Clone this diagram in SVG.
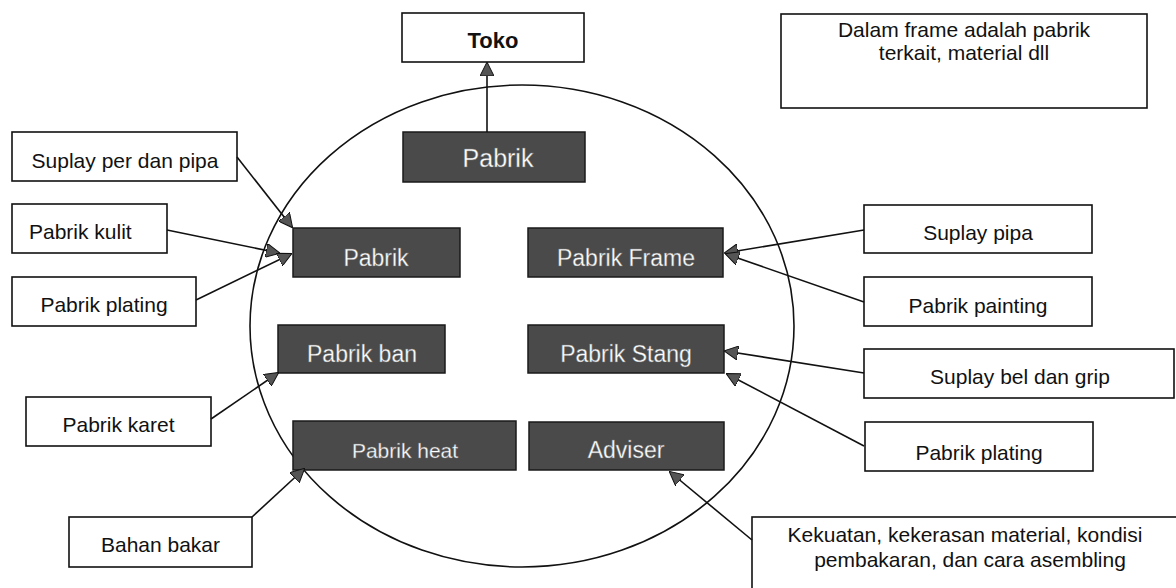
<svg xmlns="http://www.w3.org/2000/svg" width="1176" height="588" viewBox="0 0 1176 588">
<style>
.wb{fill:#fff;stroke:#111;stroke-width:1.6}
.db{fill:#4a4a4a;stroke:#1a1a1a;stroke-width:1.5}
.t{font-family:"Liberation Sans",Arial,sans-serif;font-size:21px;fill:#111;text-anchor:middle}
.dt{font-family:"Liberation Sans",Arial,sans-serif;font-size:23px;fill:#fff;text-anchor:middle;stroke:#777;stroke-width:0.4}
.c{fill:none;stroke:#111;stroke-width:1.6;marker-end:url(#ah)}
</style>
<defs>
<marker id="ah" viewBox="0 0 14 14" markerWidth="14" markerHeight="14" refX="13" refY="7" orient="auto" markerUnits="userSpaceOnUse">
<path d="M0,0 L14,7 L0,14 Z" fill="#555" stroke="#111" stroke-width="1"/>
</marker>
</defs>
<rect width="1176" height="588" fill="#fff"/>
<ellipse id="frame" cx="522" cy="326" rx="272" ry="241" fill="none" stroke="#111" stroke-width="1.6"/>

<g id="toko"><rect class="wb" x="402" y="13" width="182" height="49"/><text class="t" x="493" y="48" style="font-weight:bold;font-size:22px">Toko</text></g>
<g id="note"><rect class="wb" x="781" y="14" width="366" height="94"/><text class="t" x="964" y="37">Dalam frame adalah pabrik</text><text class="t" x="964" y="60">terkait, material dll</text></g>

<g id="pabrik-top"><rect class="db" x="403" y="132" width="182" height="50"/><text class="dt" x="498" y="167" style="font-size:25px">Pabrik</text></g>
<g id="pabrik-left"><rect class="db" x="293" y="228" width="167" height="49"/><text class="dt" x="376" y="266">Pabrik</text></g>
<g id="pabrik-frame"><rect class="db" x="528" y="228" width="195" height="49"/><text class="dt" x="626" y="266">Pabrik Frame</text></g>
<g id="pabrik-ban"><rect class="db" x="278" y="325" width="167" height="48"/><text class="dt" x="362" y="362">Pabrik ban</text></g>
<g id="pabrik-stang"><rect class="db" x="528" y="325" width="196" height="48"/><text class="dt" x="626" y="362">Pabrik Stang</text></g>
<g id="pabrik-heat"><rect class="db" x="293" y="421" width="223" height="49"/><text class="dt" x="405" y="458" style="font-size:21px">Pabrik heat</text></g>
<g id="adviser"><rect class="db" x="529" y="422" width="195" height="48"/><text class="dt" x="626" y="458">Adviser</text></g>

<g id="suplay-per"><rect class="wb" x="12" y="132" width="225" height="49"/><text class="t" x="125" y="168">Suplay per dan pipa</text></g>
<g id="pabrik-kulit"><rect class="wb" x="12" y="204" width="155" height="49"/><text class="t" x="29" y="239" style="text-anchor:start">Pabrik kulit</text></g>
<g id="pabrik-plating-l"><rect class="wb" x="12" y="277" width="184" height="49"/><text class="t" x="104" y="312">Pabrik plating</text></g>
<g id="pabrik-karet"><rect class="wb" x="26" y="397" width="185" height="49"/><text class="t" x="118.5" y="432">Pabrik karet</text></g>
<g id="bahan-bakar"><rect class="wb" x="69" y="517" width="183" height="50"/><text class="t" x="160.5" y="552">Bahan bakar</text></g>

<g id="suplay-pipa"><rect class="wb" x="864" y="205" width="228" height="48"/><text class="t" x="978" y="240">Suplay pipa</text></g>
<g id="pabrik-painting"><rect class="wb" x="864" y="277" width="228" height="49"/><text class="t" x="978" y="313">Pabrik painting</text></g>
<g id="suplay-bel"><rect class="wb" x="864" y="349" width="310" height="49"/><text class="t" x="1020" y="384">Suplay bel dan grip</text></g>
<g id="pabrik-plating-r"><rect class="wb" x="865" y="422" width="228" height="49"/><text class="t" x="979" y="460">Pabrik plating</text></g>
<g id="kekuatan"><rect class="wb" x="752" y="517" width="430" height="90"/><text class="t" x="965" y="542">Kekuatan, kekerasan material, kondisi</text><text class="t" x="970" y="567">pembakaran, dan cara asembling</text></g>

<g id="connectors">
<path class="c" d="M487,132 L487,63"/>
<path class="c" d="M237,157 L292,227"/>
<path class="c" d="M167,230 L279,253"/>
<path class="c" d="M196,300 L291,254"/>
<path class="c" d="M211,419 L278,373"/>
<path class="c" d="M252,517 L304,469"/>
<path class="c" d="M864,230 L725,253"/>
<path class="c" d="M864,302 L726,254"/>
<path class="c" d="M864,373 L725,351"/>
<path class="c" d="M864,446 L727,374"/>
<path class="c" d="M752,540 L670,472"/>
</g>
</svg>
